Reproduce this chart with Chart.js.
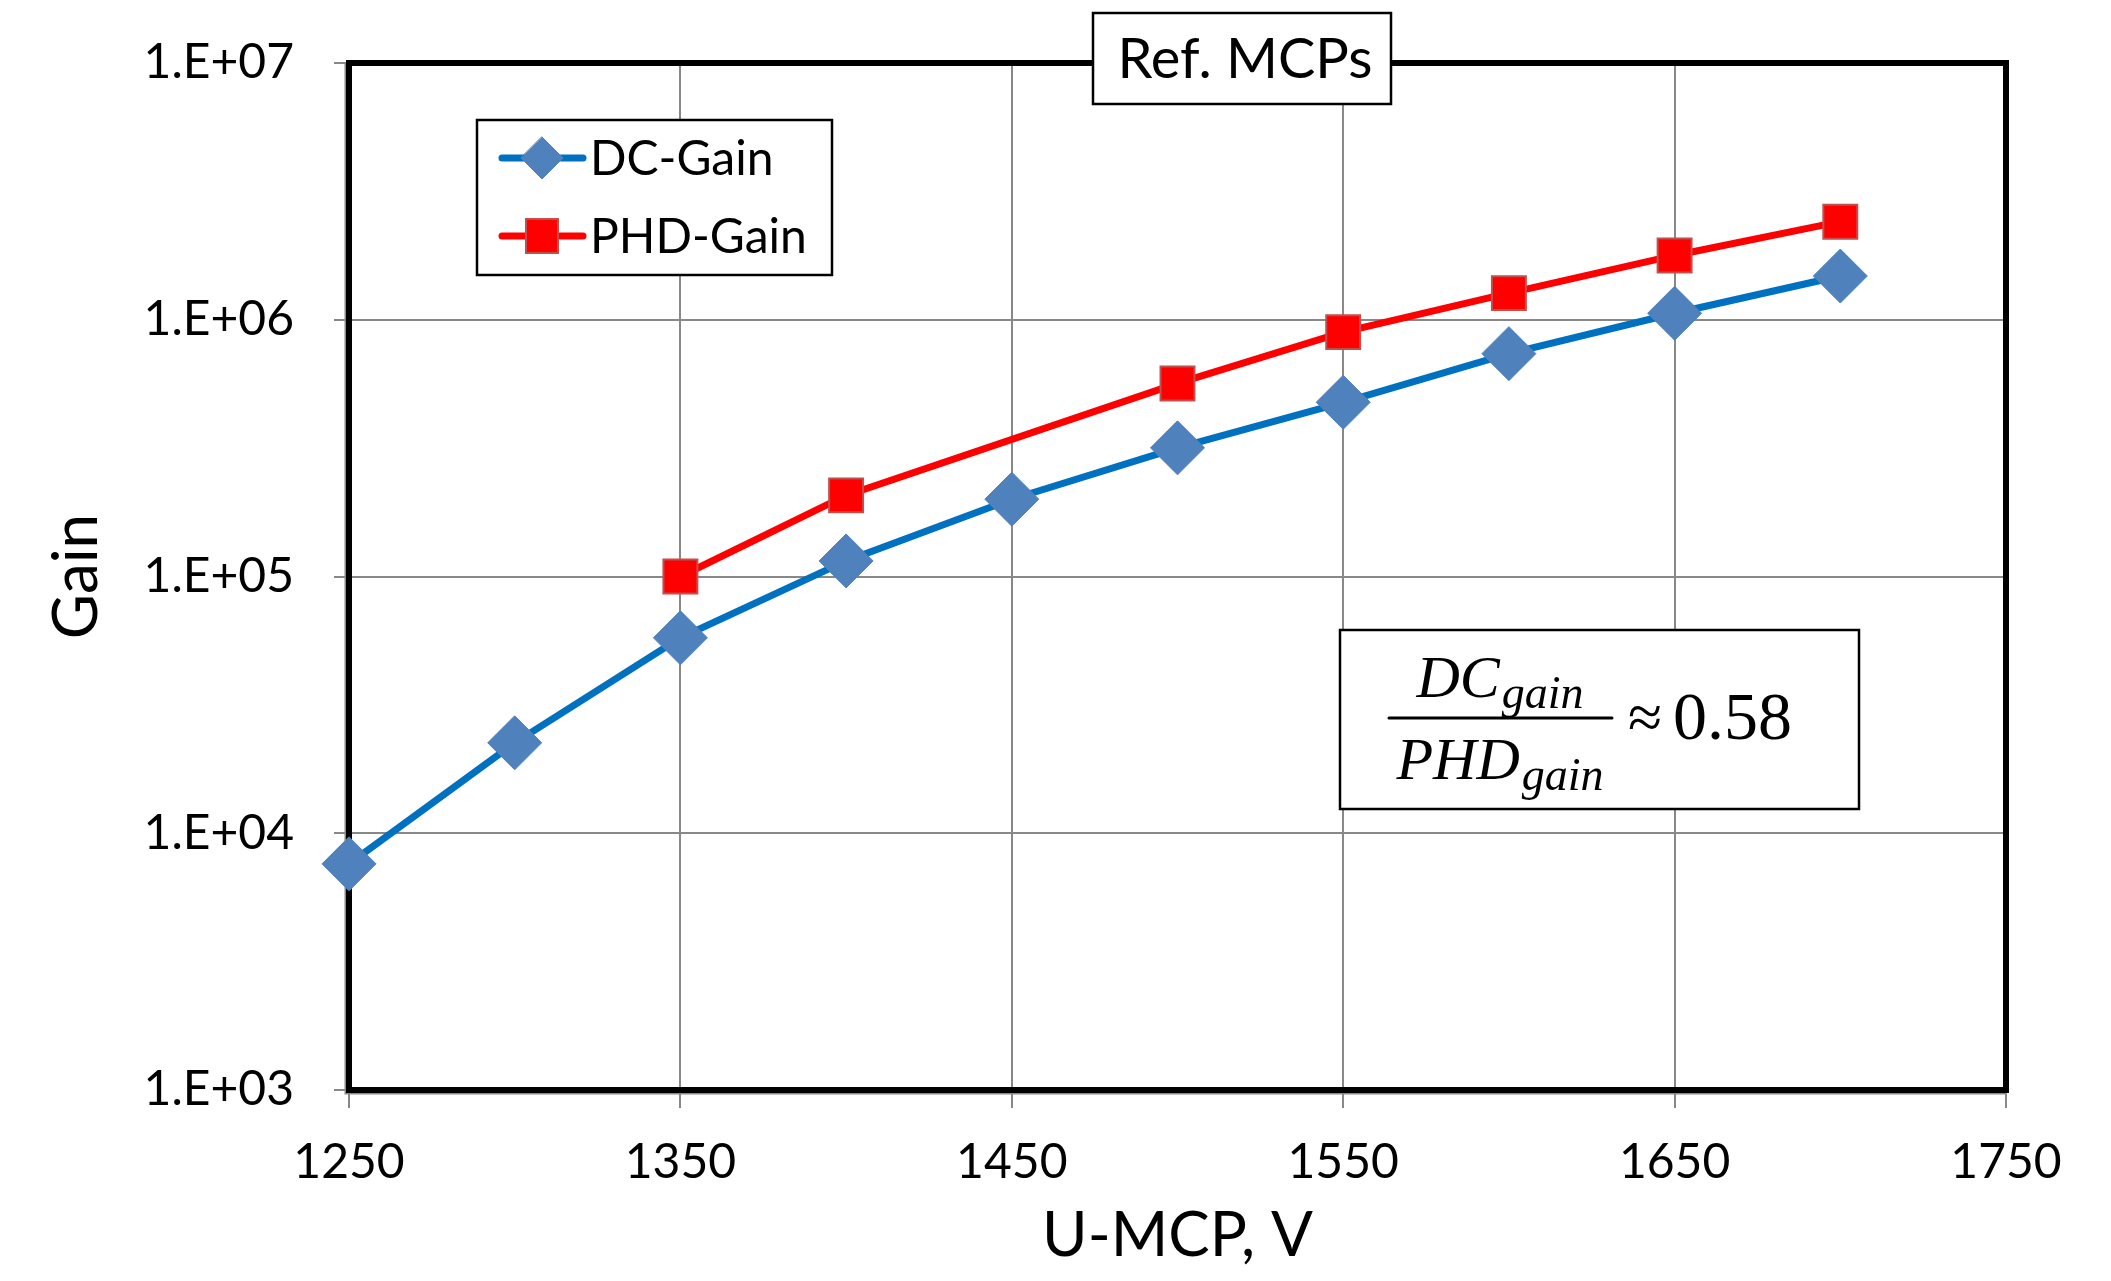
<!DOCTYPE html>
<html lang="en">
<head>
    <meta charset="UTF-8">
    <title>Ref. MCPs - Gain</title>
    <script src="https://cdn.jsdelivr.net/npm/chart.js"></script>
    <style>
        html, body { margin: 0; padding: 0; background: #fff; }
        #wrap { position: relative; width: 2111px; height: 1281px; }
    </style>
</head>
<body>
    <div id="wrap">
        <canvas id="gainChart"></canvas>
    </div>

    <script>
        // Data
        const voltages = [1250, 1300, 1350, 1400, 1450, 1500, 1550, 1600, 1650, 1700];
        const dcGain   = [7600, 22500, 57700, 115000, 200000, 317000, 477000, 738000, 1060000, 1480000];
        const phdGain  = [null, null, 100000, 207000, null, 565000, 895000, 1270000, 1780000, 2410000];
        const xTicks = [1250, 1350, 1450, 1550, 1650, 1750];
        const yTicks = [1e3, 1e4, 1e5, 1e6, 1e7];

        const FONT = 'Lato, "Open Sans", sans-serif';
        const MATH = '"Liberation Serif", "DejaVu Serif", serif';
        const GRID = '#888888';

        function sci(v) {
            const exp = Math.round(Math.log10(v));
            return '1.E+' + String(exp).padStart(2, '0');
        }

        function toPoints(ys) {
            return voltages.map((x, i) => ({ x: x, y: ys[i] }));
        }

        // Thick frame around the plot area, drawn above the grid
        const framePlugin = {
            id: 'frame',
            beforeDatasetsDraw(chart) {
                const { ctx, chartArea: a } = chart;
                ctx.save();
                ctx.strokeStyle = GRID;
                ctx.lineWidth = 3;
                ctx.beginPath();
                ctx.moveTo(a.left - 3, a.top);
                ctx.lineTo(a.left - 3, a.bottom + 3);
                ctx.lineTo(a.right, a.bottom + 3);
                ctx.stroke();
                ctx.strokeStyle = '#000';
                ctx.lineWidth = 6;
                ctx.strokeRect(a.left, a.top, a.right - a.left, a.bottom - a.top);
                ctx.restore();
            }
        };

        function box(ctx, x, y, w, h) {
            ctx.fillStyle = '#fff';
            ctx.fillRect(x, y, w, h);
            ctx.strokeStyle = '#000';
            ctx.lineWidth = 2.5;
            ctx.strokeRect(x, y, w, h);
        }

        // Title box, legend and ratio note
        const notesPlugin = {
            id: 'notes',
            afterDraw(chart) {
                const ctx = chart.ctx;
                ctx.save();

                // title
                box(ctx, 1093, 13, 298, 91);
                ctx.fillStyle = '#000';
                ctx.font = '56px ' + FONT;
                ctx.textAlign = 'center';
                ctx.textBaseline = 'middle';
                ctx.fillText('Ref. MCPs', 1245, 60);

                // legend
                box(ctx, 477, 120, 355, 155);
                const rows = [158, 236];
                chart.data.datasets.forEach((ds, i) => {
                    const y = rows[i];
                    ctx.strokeStyle = ds.borderColor;
                    ctx.lineWidth = ds.borderWidth;
                    ctx.lineCap = 'round';
                    ctx.beginPath();
                    ctx.moveTo(502, y);
                    ctx.lineTo(583, y);
                    ctx.stroke();
                    ctx.fillStyle = ds.pointBackgroundColor;
                    ctx.strokeStyle = ds.pointBorderColor;
                    ctx.lineWidth = ds.pointBorderWidth;
                    ctx.beginPath();
                    if (ds.pointStyle === 'rectRot') {
                        ctx.moveTo(542, y - 21);
                        ctx.lineTo(563, y);
                        ctx.lineTo(542, y + 21);
                        ctx.lineTo(521, y);
                        ctx.closePath();
                    } else {
                        ctx.rect(526, y - 17, 32, 34);
                    }
                    ctx.fill();
                    ctx.stroke();
                    ctx.fillStyle = '#000';
                    ctx.font = '48px ' + FONT;
                    ctx.textAlign = 'left';
                    ctx.textBaseline = 'middle';
                    ctx.fillText(ds.label, 590, y + 2);
                });

                // ratio note
                box(ctx, 1340, 630, 519, 179);
                drawSub(ctx, 'DC', 'gain', 1500, 697);
                drawSub(ctx, 'PHD', 'gain', 1500, 779);
                ctx.strokeStyle = '#000';
                ctx.lineWidth = 3;
                ctx.beginPath();
                ctx.moveTo(1389, 718);
                ctx.lineTo(1612, 718);
                ctx.stroke();
                ctx.fillStyle = '#000';
                ctx.textAlign = 'left';
                ctx.textBaseline = 'alphabetic';
                ctx.font = '62px ' + MATH;
                ctx.fillText('\u2248', 1628, 738);
                ctx.font = '68px ' + MATH;
                ctx.fillText('0.58', 1673, 739);

                ctx.restore();
            }
        };

        // italic symbol with a subscript, centred on cx
        function drawSub(ctx, main, sub, cx, baseline) {
            ctx.fillStyle = '#000';
            ctx.textAlign = 'left';
            ctx.textBaseline = 'alphabetic';
            ctx.font = 'italic 60px ' + MATH;
            const w1 = ctx.measureText(main).width;
            ctx.font = 'italic 46px ' + MATH;
            const w2 = ctx.measureText(sub).width;
            const x0 = cx - (w1 + w2 + 2) / 2;
            ctx.font = 'italic 60px ' + MATH;
            ctx.fillText(main, x0, baseline);
            ctx.font = 'italic 46px ' + MATH;
            ctx.fillText(sub, x0 + w1 + 2, baseline + 11);
        }

        const ctx = document.getElementById('gainChart').getContext('2d');
        new Chart(ctx, {
            type: 'line',
            data: {
                datasets: [{
                    label: 'DC-Gain',
                    data: toPoints(dcGain),
                    borderColor: '#0070C0',
                    borderWidth: 7,
                    pointStyle: 'rectRot',
                    pointRadius: 27,
                    pointBackgroundColor: '#4F81BD',
                    pointBorderColor: '#4F81BD',
                    pointBorderWidth: 1,
                    tension: 0,
                    clip: false
                }, {
                    label: 'PHD-Gain',
                    data: toPoints(phdGain),
                    borderColor: '#FF0000',
                    borderWidth: 7,
                    pointStyle: 'rect',
                    pointRadius: 24,
                    pointBackgroundColor: '#FF0000',
                    pointBorderColor: '#C0504D',
                    pointBorderWidth: 2,
                    tension: 0,
                    spanGaps: true,
                    clip: false
                }]
            },
            options: {
                responsive: true,
                maintainAspectRatio: false,
                devicePixelRatio: 1,
                animation: false,
                layout: { padding: { left: 0, top: 63, right: 105, bottom: 0 } },
                plugins: {
                    legend: { display: false },
                    tooltip: { enabled: false }
                },
                scales: {
                    x: {
                        type: 'linear',
                        min: 1250,
                        max: 1750,
                        afterBuildTicks: s => { s.ticks = xTicks.map(v => ({ value: v })); },
                        afterFit: s => { s.height = 191; },
                        ticks: {
                            callback: v => String(v),
                            font: { family: FONT, size: 48 },
                            color: '#000',
                            padding: 26,
                            maxRotation: 0,
                            autoSkip: false
                        },
                        grid: { color: GRID, lineWidth: 2, tickLength: 18 },
                        border: { display: false },
                        title: {
                            display: true,
                            text: 'U-MCP, V',
                            color: '#000',
                            font: { family: FONT, size: 62 },
                            padding: { top: 0, bottom: 8 }
                        }
                    },
                    y: {
                        type: 'logarithmic',
                        min: 1e3,
                        max: 1e7,
                        afterBuildTicks: s => { s.ticks = yTicks.map(v => ({ value: v, major: true })); },
                        afterFit: s => {
                            s.width = 349;
                            // label padding should not push the plot area down
                            s.paddingTop = 30;
                            s.paddingBottom = 30;
                        },
                        ticks: {
                            callback: v => sci(v),
                            font: { family: FONT, size: 48 },
                            color: '#000',
                            padding: 40,
                            autoSkip: false
                        },
                        grid: { color: GRID, lineWidth: 2, tickLength: 15 },
                        border: { display: false },
                        title: {
                            display: true,
                            text: 'Gain',
                            color: '#000',
                            font: { family: FONT, size: 62 },
                            padding: { top: 40, bottom: 0 }
                        }
                    }
                }
            },
            plugins: [framePlugin, notesPlugin]
        });
    </script>
</body>
</html>
